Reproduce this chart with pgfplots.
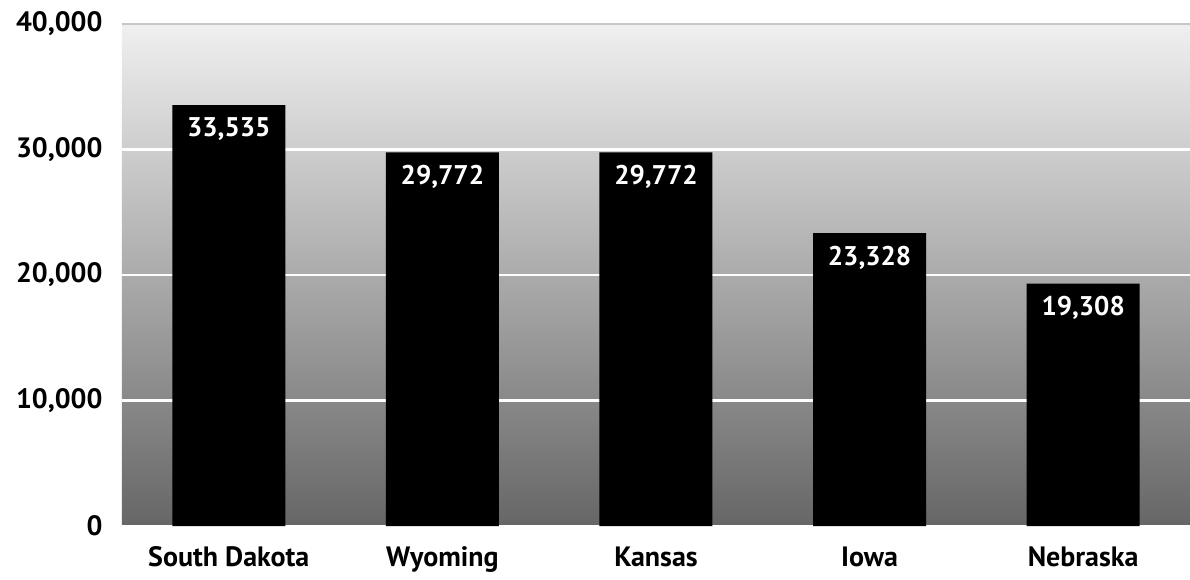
\documentclass[border=0pt]{standalone}
\usepackage{pgfplots}
\pgfplotsset{compat=1.18}
\usepackage{fontspec}
\setmainfont{PT Sans}
\begin{document}
\begin{tikzpicture}
\useasboundingbox (-122pt,-53pt) rectangle (1068pt,526pt);
\begin{axis}[
  name=ax,
  at={(0pt,0pt)}, anchor=south west,
  scale only axis,
  width=1068pt, height=502pt,
  xmin=-0.5, xmax=4.5,
  ymin=0, ymax=40000,
  ybar, bar width=113pt,
  axis line style={draw=none},
  axis background/.style={top color=black!6, bottom color=black!60},
  ytick={0,10000,20000,30000,40000},
  scaled y ticks=false,
  yticklabel style={/pgf/number format/fixed, /pgf/number format/1000 sep={,}},
  ymajorgrids,
  grid style={white, line width=2.5pt},
  major tick length=0pt,
  xtick={0,1,2,3,4},
  xticklabels={South Dakota,Wyoming,Kansas,Iowa,Nebraska},
  /pgf/number format/1000 sep={,},
  /pgf/number format/assume math mode=true,
  yticklabel style={font=\fontsize{28}{32}\selectfont\bfseries, xshift=-16pt},
  xticklabel style={font=\fontsize{28}{32}\selectfont\bfseries, yshift=-17pt},
  nodes near coords,
  nodes near coords style={font=\fontsize{27}{31}\selectfont\bfseries, text=white, anchor=north, yshift=-9pt,
    /pgf/number format/fixed, /pgf/number format/1000 sep={,}},
  clip=false,
]
\addplot[fill=black, draw=none] coordinates {(0,33535) (1,29772) (2,29772) (3,23328) (4,19308)};
\draw[black!22, line width=2.5pt] (axis cs:-0.5,40000) -- (axis cs:4.5,40000);
\end{axis}
\end{tikzpicture}
\end{document}
